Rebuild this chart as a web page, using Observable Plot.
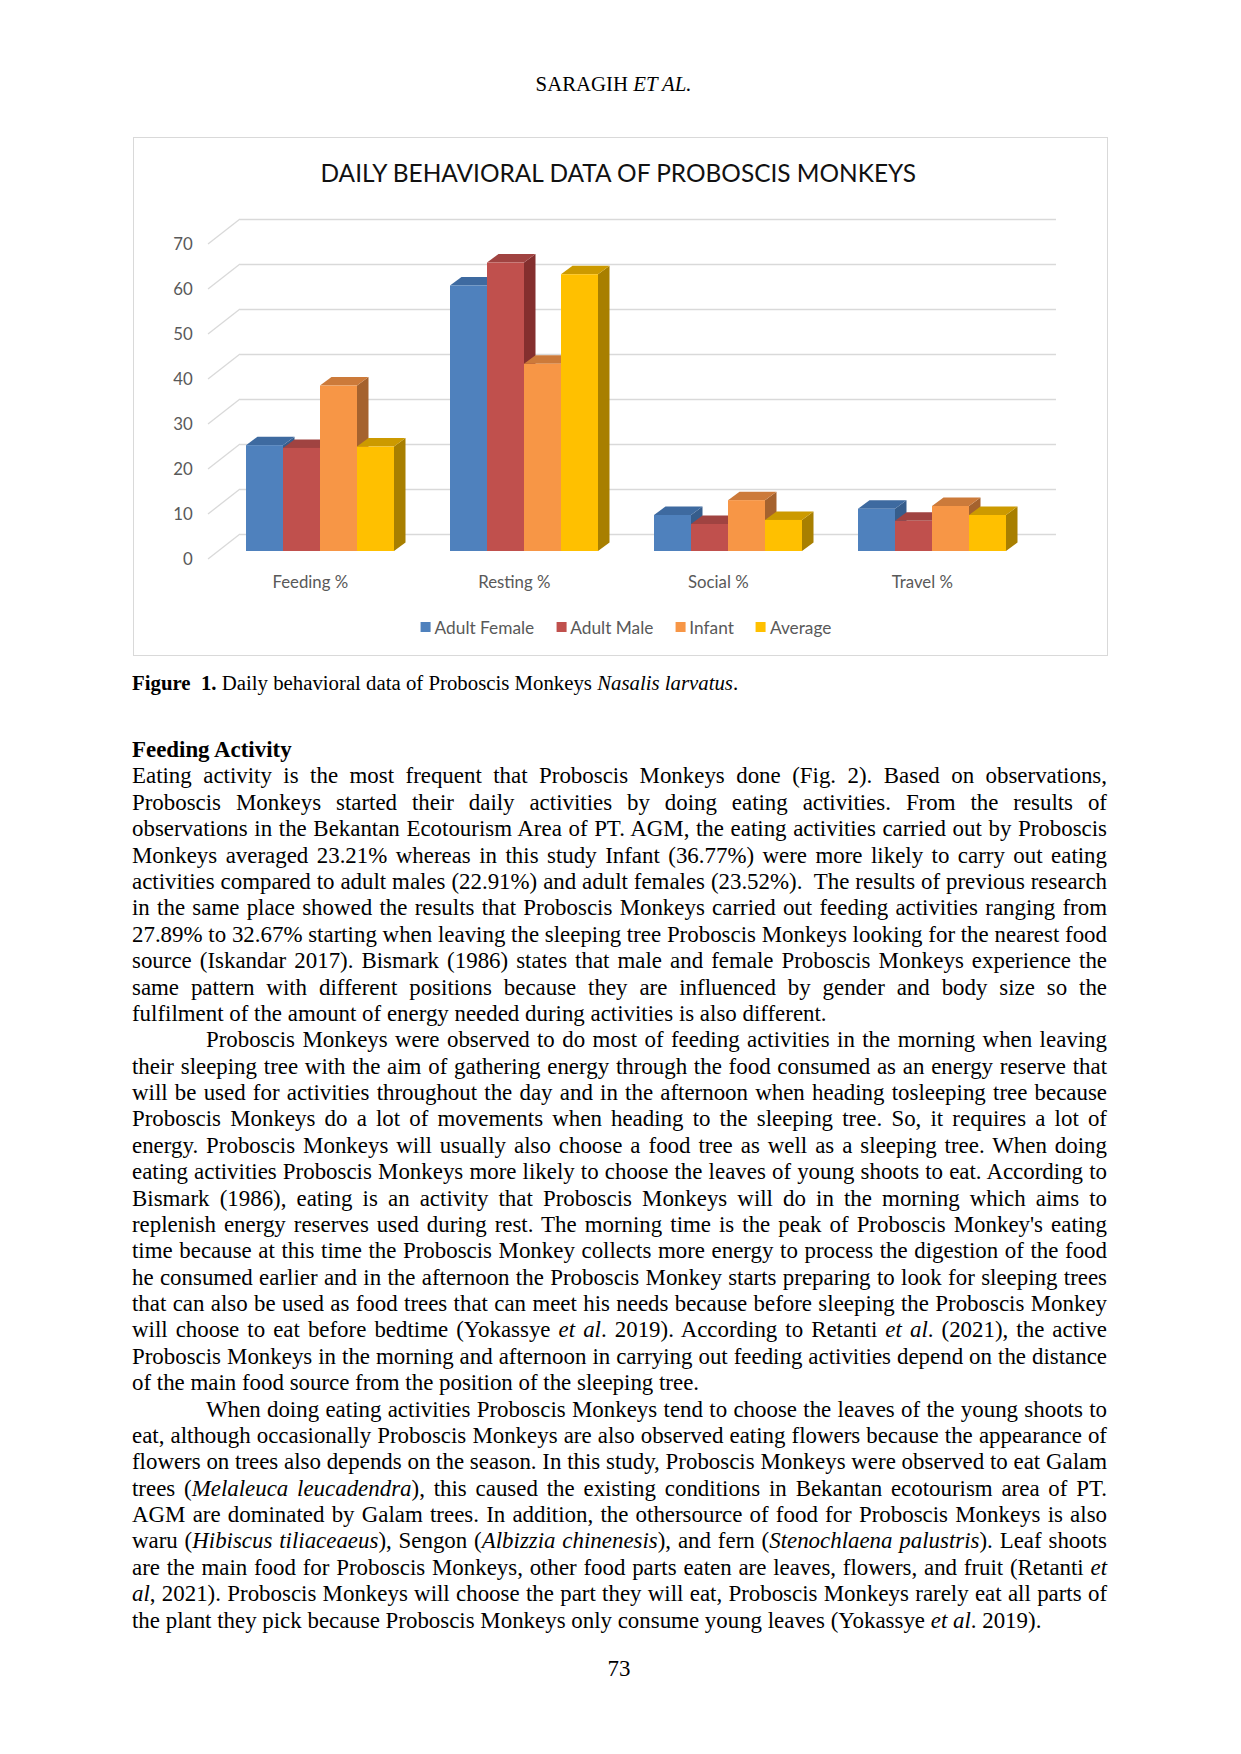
<!DOCTYPE html>
<html><head><meta charset="utf-8">
<script src="https://cdn.jsdelivr.net/npm/d3@7"></script>
<script src="https://cdn.jsdelivr.net/npm/@observablehq/plot@0.6"></script>
<style>
html,body{margin:0;padding:0;background:#fff;}
body{position:relative;width:1241px;height:1754px;overflow:hidden;font-family:"Liberation Serif","Times New Roman",serif;color:#000;}
.abs{position:absolute;white-space:pre;}
#frame{position:absolute;left:133px;top:137px;width:975px;height:519px;border:1.5px solid #D9D9D9;box-sizing:border-box;}
#plotbox{position:absolute;left:133px;top:195px;width:975px;height:410px;}
#title{position:absolute;font-family:Lato,"Open Sans",sans-serif;color:#111;white-space:pre;}
#legend{position:absolute;display:flex;align-items:center;font-family:Lato,"Open Sans",sans-serif;font-size:17.3px;color:#595959;white-space:pre;transform:translateX(-50%);}
#legend .it{display:flex;align-items:center;margin-right:22px;}
#legend .it:last-child{margin-right:0;}
#legend .sw{width:10px;height:10px;margin-right:4px;}
.line{position:absolute;left:132px;width:975px;white-space:pre;font-size:22.9px;line-height:26.38px;height:26.38px;}
</style></head>
<body>
<div id="frame"></div>
<div id="title"></div>
<div id="plotbox"></div>
<div id="legend"></div>
<script>
// ---------- chart data ----------
const chartTitle = "DAILY BEHAVIORAL DATA OF PROBOSCIS MONKEYS";
const categories = ["Feeding %", "Resting %", "Social %", "Travel %"];
const series = ["Adult Female", "Adult Male", "Infant", "Average"];
const adultFemale = [23.52, 59.0, 8.0, 9.4];
const adultMale   = [22.91, 64.1, 6.0, 6.7];
const infant      = [36.77, 41.6, 11.3, 10.0];
const average     = [23.21, 61.5, 6.9, 8.0];
const yTicks = [0, 10, 20, 30, 40, 50, 60, 70];
const frontColors = ["#4F81BD", "#C0504D", "#F79646", "#FFC000"];
const topColors   = ["#3E6AA0", "#A04341", "#CC7A3A", "#CC9A00"];
const sideColors  = ["#365D8C", "#842F2E", "#A5622E", "#A87F00"];

const seriesValues = [adultFemale, adultMale, infant, average];
const rows = series.flatMap((s, j) => categories.map((c, i) => ({category: c, series: s, j, value: seriesValues[j][i]})));

// ---------- layout ----------
const W = 975, H = 410, ML = 85.2, MR = 73.8, MT = 41, MB = 54;
const BW = (W - ML - MR) / categories.length;
const barW = 37;
const lead = (BW - barW * series.length) / 2;
const DX = 11.5, DY = 8.5;      // bar depth
const WDX = 21.8, WDY = 17;     // bar front plane -> back wall
const FDX = 10.2, FDY = 8;      // bar front plane -> front floor edge
const axisFont = "Lato, 'Open Sans', sans-serif";

function sidesAndTops(index, scales) {
  const x = scales.x, y = scales.y;
  const g = d3.create("svg:g");
  for (const r of rows) {
    const x0 = x(r.category) + lead + barW * r.j, x1 = x0 + barW;
    const yT = y(r.value), yB = y(0);
    g.append("path").attr("fill", sideColors[r.j])
      .attr("d", `M${x1},${yB}L${x1},${yT}L${x1 + DX},${yT - DY}L${x1 + DX},${yB - DY}Z`);
    g.append("path").attr("fill", topColors[r.j])
      .attr("d", `M${x0},${yT}L${x1},${yT}L${x1 + DX},${yT - DY}L${x0 + DX},${yT - DY}Z`);
  }
  return g.node();
}
function sideWall(index, scales) {
  const y = scales.y;
  const g = d3.create("svg:g");
  for (const t of yTicks) {
    g.append("line").attr("stroke", "#D9D9D9").attr("stroke-width", 1.3)
      .attr("x1", ML - FDX).attr("y1", y(t) + FDY)
      .attr("x2", ML + WDX).attr("y2", y(t) - WDY);
  }
  return g.node();
}

const chart = Plot.plot({
  width: W, height: H,
  marginLeft: ML, marginRight: MR, marginTop: MT, marginBottom: MB,
  style: {background: "transparent", fontFamily: axisFont, overflow: "visible"},
  x: {type: "band", domain: categories, padding: 0, axis: null},
  y: {domain: [0, 70], axis: null},
  marks: [
    Plot.ruleY(yTicks, {y: d => d, stroke: "#D9D9D9", strokeWidth: 1.3, strokeOpacity: 1, dx: WDX, dy: -WDY}),
    sideWall,
    Plot.text(yTicks, {y: d => d, text: d => String(d), frameAnchor: "left", textAnchor: "end", dx: -26, dy: 8, fill: "#595959", fontSize: 16.8, fontFamily: axisFont}),
    sidesAndTops,
    ...series.map((s, j) => Plot.barY(rows.filter(r => r.j === j), {
      x: "category", y: "value", fill: frontColors[j],
      insetLeft: lead + barW * j, insetRight: BW - lead - barW * (j + 1)
    })),
    Plot.text(categories, {x: d => d, y: () => 0, text: d => d, dx: -FDX, dy: 31, fill: "#595959", fontSize: 16.8, fontFamily: axisFont})
  ]
});
document.getElementById("plotbox").appendChild(chart);

// ---------- text placement helpers ----------
function place(el, baseline, fs, lh, asc, desc) {
  el.style.fontSize = fs + "px";
  el.style.lineHeight = lh + "px";
  el.style.top = (baseline - ((lh - (asc + desc) * fs) / 2 + asc * fs)) + "px";
}
// title (fit to measured width)
const titleEl = document.getElementById("title");
titleEl.textContent = chartTitle;
{
  const ctx = document.createElement("canvas").getContext("2d");
  ctx.font = "100px Lato";
  const w100 = ctx.measureText(chartTitle).width;
  const fs = 100 * 599 / w100;
  place(titleEl, 182, fs, fs * 1.2, 0.987, 0.213);
  titleEl.style.left = (620 - 299.5) + "px";
}
// legend
const legendEl = document.getElementById("legend");
series.forEach((s, j) => {
  const it = document.createElement("div"); it.className = "it";
  const sw = document.createElement("div"); sw.className = "sw"; sw.style.background = frontColors[j];
  const tx = document.createElement("span"); tx.textContent = s;
  it.appendChild(sw); it.appendChild(tx); legendEl.appendChild(it);
});
legendEl.style.left = "626px";
legendEl.style.top = (627 - 10) + "px";
legendEl.style.height = "20px";

// ---------- page text ----------
function addText(html, left, baseline, fs, opts = {}) {
  const el = document.createElement("div");
  el.className = "abs";
  el.innerHTML = html;
  document.body.appendChild(el);
  place(el, baseline, fs, fs * 1.15, 0.891, 0.216);
  if (opts.center) {
    const w = el.getBoundingClientRect().width;
    el.style.left = (left - w / 2) + "px";
  } else el.style.left = left + "px";
  return el;
}
addText("SARAGIH <i>ET AL.</i>", 613.5, 91, 20.8, {center: true});
addText("<b>Figure  1.</b> Daily behavioral data of Proboscis Monkeys <i>Nasalis larvatus</i>.", 132, 690, 20.8);
addText("73", 619, 1677, 22.9, {center: true});

const bodyLines = [
  ["<b>Feeding Activity</b>", "L"],
  ["Eating activity is the most frequent that Proboscis Monkeys done (Fig. 2). Based on observations,", "J"],
  ["Proboscis Monkeys started their daily activities by doing eating activities. From the results of", "J"],
  ["observations in the Bekantan Ecotourism Area of PT. AGM, the eating activities carried out by Proboscis", "J"],
  ["Monkeys averaged 23.21% whereas in this study Infant (36.77%) were more likely to carry out eating", "J"],
  ["activities compared to adult males (22.91%) and adult females (23.52%).  The results of previous research", "J"],
  ["in the same place showed the results that Proboscis Monkeys carried out feeding activities ranging from", "J"],
  ["27.89% to 32.67% starting when leaving the sleeping tree Proboscis Monkeys looking for the nearest food", "J"],
  ["source (Iskandar 2017). Bismark (1986) states that male and female Proboscis Monkeys experience the", "J"],
  ["same pattern with different positions because they are influenced by gender and body size so the", "J"],
  ["fulfilment of the amount of energy needed during activities is also different.", "L"],
  ["Proboscis Monkeys were observed to do most of feeding activities in the morning when leaving", "I"],
  ["their sleeping tree with the aim of gathering energy through the food consumed as an energy reserve that", "J"],
  ["will be used for activities throughout the day and in the afternoon when heading tosleeping tree because", "J"],
  ["Proboscis Monkeys do a lot of movements when heading to the sleeping tree. So, it requires a lot of", "J"],
  ["energy. Proboscis Monkeys will usually also choose a food tree as well as a sleeping tree. When doing", "J"],
  ["eating activities Proboscis Monkeys more likely to choose the leaves of young shoots to eat. According to", "J"],
  ["Bismark (1986), eating is an activity that Proboscis Monkeys will do in the morning which aims to", "J"],
  ["replenish energy reserves used during rest. The morning time is the peak of Proboscis Monkey's eating", "J"],
  ["time because at this time the Proboscis Monkey collects more energy to process the digestion of the food", "J"],
  ["he consumed earlier and in the afternoon the Proboscis Monkey starts preparing to look for sleeping trees", "J"],
  ["that can also be used as food trees that can meet his needs because before sleeping the Proboscis Monkey", "J"],
  ["will choose to eat before bedtime (Yokassye <i>et al</i>. 2019). According to Retanti <i>et al</i>. (2021), the active", "J"],
  ["Proboscis Monkeys in the morning and afternoon in carrying out feeding activities depend on the distance", "J"],
  ["of the main food source from the position of the sleeping tree.", "L"],
  ["When doing eating activities Proboscis Monkeys tend to choose the leaves of the young shoots to", "I"],
  ["eat, although occasionally Proboscis Monkeys are also observed eating flowers because the appearance of", "J"],
  ["flowers on trees also depends on the season. In this study, Proboscis Monkeys were observed to eat Galam", "J"],
  ["trees (<i>Melaleuca leucadendra</i>), this caused the existing conditions in Bekantan ecotourism area of PT.", "J"],
  ["AGM are dominated by Galam trees. In addition, the othersource of food for Proboscis Monkeys is also", "J"],
  ["waru (<i>Hibiscus tiliaceaeus</i>), Sengon (<i>Albizzia chinenesis</i>), and fern (<i>Stenochlaena palustris</i>). Leaf shoots", "J"],
  ["are the main food for Proboscis Monkeys, other food parts eaten are leaves, flowers, and fruit (Retanti <i>et</i>", "J"],
  ["<i>al</i>, 2021). Proboscis Monkeys will choose the part they will eat, Proboscis Monkeys rarely eat all parts of", "J"],
  ["the plant they pick because Proboscis Monkeys only consume young leaves (Yokassye <i>et al</i>. 2019).", "L"]
];
const fsB = 22.9, lhB = 26.38, firstBaseline = 758, colLeft = 132, colW = 975, indent = 74;
bodyLines.forEach(([html, kind], k) => {
  const el = document.createElement("div");
  el.className = "line";
  const sp = document.createElement("span");
  sp.innerHTML = html;
  el.appendChild(sp);
  document.body.appendChild(el);
  const baseline = firstBaseline + k * lhB;
  el.style.top = (baseline - ((lhB - 1.107 * fsB) / 2 + 0.891 * fsB)) + "px";
  const left = kind === "I" ? colLeft + indent : colLeft;
  el.style.left = left + "px";
  if (kind === "J" || kind === "I") {
    const target = colW - (left - colLeft);
    const nat = sp.getBoundingClientRect().width;
    const nSpaces = (sp.textContent.match(/ /g) || []).length;
    if (nSpaces > 0) sp.style.wordSpacing = ((target - nat) / nSpaces) + "px";
  }
});
</script>
</body></html>
